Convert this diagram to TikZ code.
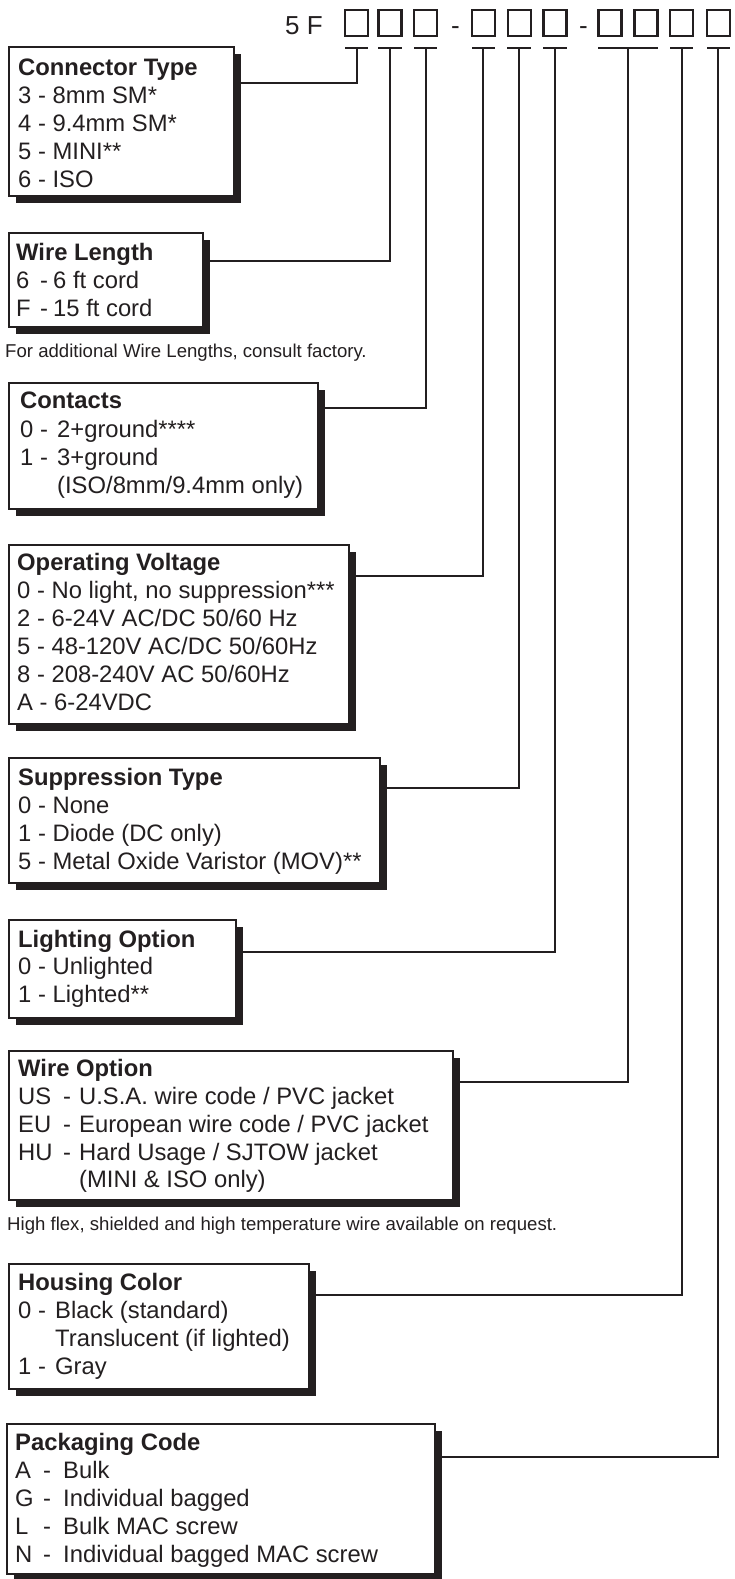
\documentclass[tikz,border=0pt]{standalone}
\usepackage{fontspec}
\setmainfont{Liberation Sans}
\usetikzlibrary{shadows}
\definecolor{ink}{HTML}{231F20}
\newcommand\codebox[5]{%
  \node[cbox, anchor=north west, minimum width={(#4-#2)*1pt}, minimum height={(#5-#3)*1pt}] (#1) at (#2,#3) {};}
\begin{document}
\begin{tikzpicture}[x=1pt,y=-1pt,
  cbox/.style={draw=ink, line width=1.8pt, fill=white, inner sep=0pt, rectangle,
     drop shadow={shadow xshift=7pt, shadow yshift=-7pt, fill=ink, opacity=1}},
  txt/.style={anchor=base west, inner sep=0pt, text=ink, font=\fontsize{23.8}{28}\selectfont},
  ttl/.style={txt, font=\fontsize{23.8}{28}\selectfont\bfseries},
  note/.style={anchor=base west, inner sep=0pt, text=ink, font=\fontsize{18.6}{22}\selectfont},
  hdr/.style={anchor=base west, inner sep=0pt, text=ink, font=\fontsize{26}{30}\selectfont},
  sq/.style={draw=ink, line width=2.2pt, minimum width=23pt, minimum height=26pt, inner sep=0pt, anchor=north},
  conn/.style={draw=ink, line width=2.2pt},
  bar/.style={draw=ink, line width=2.2pt}]
\useasboundingbox (0,0) rectangle (735,1579);

% ---------- header ----------
\node[hdr] (five) at (285,35) {5 F};
\node[sq] (s1) at (356.7,9) {};
\node[sq] (s2) at (390,9) {};
\node[sq] (s3) at (425.7,9) {};
\node[hdr] (d1) at (451,35) {-};
\node[sq] (s4) at (483.3,9) {};
\node[sq] (s5) at (519.3,9) {};
\node[sq] (s6) at (555,9) {};
\node[hdr] (d2) at (579,35) {-};
\node[sq] (s7) at (610,9) {};
\node[sq] (s8) at (646,9) {};
\node[sq] (s9) at (681.7,9) {};
\node[sq] (s10) at (718.3,9) {};

\coordinate (b1) at (356.7,48);
\coordinate (b2) at (390,48);
\coordinate (b3) at (425.7,48);
\coordinate (b4) at (483.3,48);
\coordinate (b5) at (519.3,48);
\coordinate (b6) at (555,48);
\coordinate (b7) at (628.3,48);
\coordinate (b8) at (681.7,48);
\coordinate (b9) at (718.3,48);
\draw[bar] (345,48) -- (368,48);
\draw[bar] (378,48) -- (402,48);
\draw[bar] (414,48) -- (437,48);
\draw[bar] (472,48) -- (495,48);
\draw[bar] (507,48) -- (531,48);
\draw[bar] (543,48) -- (567,48);
\draw[bar] (598,48) -- (658,48);
\draw[bar] (670,48) -- (693,48);
\draw[bar] (707,48) -- (730,48);

% ---------- boxes ----------
\codebox{ct}{8}{46}{233}{195}
\codebox{wl}{8}{232}{202}{326}
\codebox{co}{8}{382}{317}{508}
\codebox{ov}{8}{544}{348}{723}
\codebox{st}{8}{757}{379}{882}
\codebox{lo}{8}{919}{235}{1017}
\codebox{wo}{8}{1050}{452}{1199}
\codebox{hc}{8}{1263}{308}{1388}
\codebox{pc}{6}{1423}{434}{1573}

% ---------- connectors ----------
\coordinate (y1) at (0,83);
\coordinate (y2) at (0,261);
\coordinate (y3) at (0,408);
\coordinate (y4) at (0,576);
\coordinate (y5) at (0,788);
\coordinate (y6) at (0,952);
\coordinate (y7) at (0,1082);
\coordinate (y8) at (0,1295);
\coordinate (y9) at (0,1457);
\draw[conn] (ct.east |- y1) -| (b1);
\draw[conn] (wl.east |- y2) -| (b2);
\draw[conn] (co.east |- y3) -| (b3);
\draw[conn] (ov.east |- y4) -| (b4);
\draw[conn] (st.east |- y5) -| (b5);
\draw[conn] (lo.east |- y6) -| (b6);
\draw[conn] (wo.east |- y7) -| (b7);
\draw[conn] (hc.east |- y8) -| (b8);
\draw[conn] (pc.east |- y9) -| (b9);

% ---------- texts ----------
\node[ttl] (ct0) at (18,75) {Connector Type};
\node[txt] (ct1) at (18,103) {3 - 8mm SM*};
\node[txt] (ct2) at (18,131) {4 - 9.4mm SM*};
\node[txt] (ct3) at (18,159) {5 - MINI**};
\node[txt] (ct4) at (18,187) {6 - ISO};

\node[ttl] (wl0) at (16,260) {Wire Length};
\node[txt] (wl1) at (16,288) {\makebox[24pt][l]{6}\makebox[13pt][l]{-}6 ft cord};
\node[txt] (wl2) at (16,316) {\makebox[24pt][l]{F}\makebox[13pt][l]{-}15 ft cord};

\node[note] (n1) at (5,357) {For additional Wire Lengths, consult factory.};

\node[ttl] (co0) at (20,408) {Contacts};
\node[txt] (co1) at (20,437) {\makebox[37pt][l]{0 -}2+ground****};
\node[txt] (co2) at (20,465) {\makebox[37pt][l]{1 -}3+ground};
\node[txt] (co3) at (20,493) {\makebox[37pt][l]{}(ISO/8mm/9.4mm only)};

\node[ttl] (ov0) at (17,570) {Operating Voltage};
\node[txt] (ov1) at (17,598) {0 - No light, no suppression***};
\node[txt] (ov2) at (17,626) {2 - 6-24V AC/DC 50/60 Hz};
\node[txt] (ov3) at (17,654) {5 - 48-120V AC/DC 50/60Hz};
\node[txt] (ov4) at (17,682) {8 - 208-240V AC 50/60Hz};
\node[txt] (ov5) at (17,710) {A - 6-24VDC};

\node[ttl] (st0) at (18,785) {Suppression Type};
\node[txt] (st1) at (18,813) {0 - None};
\node[txt] (st2) at (18,841) {1 - Diode (DC only)};
\node[txt] (st3) at (18,869) {5 - Metal Oxide Varistor (MOV)**};

\node[ttl] (lo0) at (18,947) {Lighting Option};
\node[txt] (lo1) at (18,974) {0 - Unlighted};
\node[txt] (lo2) at (18,1002) {1 - Lighted**};

\node[ttl] (wo0) at (18,1076) {Wire Option};
\node[txt] (wo1) at (18,1104) {\makebox[45pt][l]{US}\makebox[16pt][l]{-}U.S.A. wire code / PVC jacket};
\node[txt] (wo2) at (18,1132) {\makebox[45pt][l]{EU}\makebox[16pt][l]{-}European wire code / PVC jacket};
\node[txt] (wo3) at (18,1160) {\makebox[45pt][l]{HU}\makebox[16pt][l]{-}Hard Usage / SJTOW jacket};
\node[txt] (wo4) at (18,1187) {\makebox[61pt][l]{}(MINI \& ISO only)};

\node[note] (n2) at (7,1230) {High flex, shielded and high temperature wire available on request.};

\node[ttl] (hc0) at (18,1290) {Housing Color};
\node[txt] (hc1) at (18,1318) {\makebox[37pt][l]{0 -}Black (standard)};
\node[txt] (hc2) at (18,1346) {\makebox[37pt][l]{}Translucent (if lighted)};
\node[txt] (hc3) at (18,1374) {\makebox[37pt][l]{1 -}Gray};

\node[ttl] (pc0) at (15,1450) {Packaging Code};
\node[txt] (pc1) at (15,1478) {\makebox[28pt][l]{A}\makebox[20pt][l]{-}Bulk};
\node[txt] (pc2) at (15,1506) {\makebox[28pt][l]{G}\makebox[20pt][l]{-}Individual bagged};
\node[txt] (pc3) at (15,1534) {\makebox[28pt][l]{L}\makebox[20pt][l]{-}Bulk MAC screw};
\node[txt] (pc4) at (15,1562) {\makebox[28pt][l]{N}\makebox[20pt][l]{-}Individual bagged MAC screw};
\end{tikzpicture}
\end{document}
